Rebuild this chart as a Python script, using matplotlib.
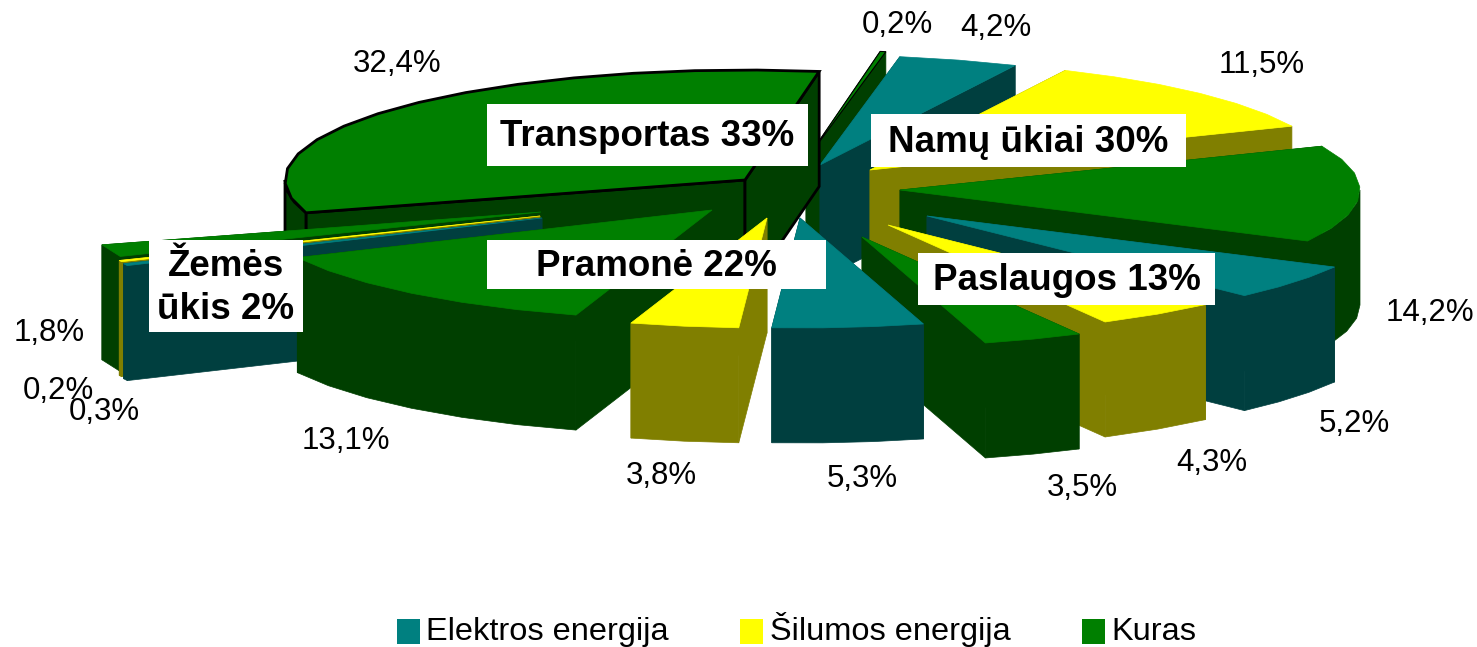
import numpy as np
import matplotlib
matplotlib.use('Agg')
import matplotlib.pyplot as plt
from matplotlib.legend_handler import HandlerPatch
from matplotlib.patches import Patch, Rectangle

# slices clockwise from the top of the pie
values = [4.2, 11.5, 14.2, 5.2, 4.3, 3.5, 5.3, 3.8, 13.1, 0.3, 0.2, 1.8, 32.4, 0.2]
kinds = ['el', 'heat', 'fuel', 'el', 'heat', 'fuel', 'el', 'heat', 'fuel', 'el', 'heat', 'fuel', 'fuel', 'fuel']
legend_names = ['Elektros energija', 'Šilumos energija', 'Kuras']
sector_names = ['Transportas 33%', 'Namų ūkiai 30%', 'Pramonė 22%', 'Paslaugos 13%', 'Žemės\nūkis 2%']

# styles and layout, in pixels of the picture
top_col = {'el': '#008080', 'heat': '#FFFF00', 'fuel': '#007F00'}
side_col = {'el': '#003F3F', 'heat': '#807F00', 'fuel': '#003F00'}
tips = [(820, 165), (870, 170), (900, 190), (927, 216), (888, 225), (862, 237), (800, 218),
        (767, 218), (712, 210), (542, 218), (540, 216), (541, 212), (745, 180), (806, 160)]
top_lw = {12: 2, 13: 0.8}
wall_lw = {12: 2}
label_pos = [(996, 28), (1262, 65), (1430, 313), (1354, 424), (1212, 463), (1082, 488), (862, 479),
             (661, 476), (346, 441), (104, 412), (58, 391), (49, 333), (397, 64), (897, 25)]
boxes = [(487, 104, 808, 166), (871, 114, 1186, 167), (487, 240, 826, 289),
         (918, 253, 1215, 305), (149, 240, 303, 332)]
rx = 460
ry = 110
depth = 115
rotation = 10
arc_step = 8

plt.rcParams['font.family'] = ['Liberation Sans', 'DejaVu Sans']

fig = plt.figure(figsize=(14.77, 6.47), dpi=100)
ax = fig.add_axes([0, 0, 1, 1])
ax.set_xlim(0, 1477)
ax.set_ylim(647, 0)
ax.axis('off')


def rim(tip, a0, a1):
    # points of the top rim between two clock angles, in short straight runs
    n = max(int(np.ceil((a1 - a0) / arc_step)), 1)
    t = np.radians(np.linspace(a0, a1, n + 1))
    return tip[0] + rx * np.sin(t), tip[1] - ry * np.cos(t)


bounds = np.concatenate([[0], np.cumsum(values)]) * 3.6 / (sum(values) / 100) + rotation
mids = (bounds[:-1] + bounds[1:]) / 2
draw_order = np.argsort(-np.cos(np.radians(mids)), kind='stable')

for i in draw_order:
    a0, a1 = bounds[i], bounds[i + 1]
    tip = tips[i]
    top = top_col[kinds[i]]
    side = side_col[kinds[i]]
    ec_top = 'black' if i in top_lw else top
    ec_side = 'black' if i in wall_lw else side

    # the two cut faces
    for a in (a0, a1):
        x, y = rim(tip, a, a + 0.001)
        ax.fill([tip[0], x[0], x[0], tip[0]], [tip[1], y[0], y[0] + depth, tip[1] + depth],
                fc=side, ec=ec_side, lw=wall_lw.get(i, 0.5), zorder=2)

    # outer wall, only the part turned to the viewer
    w0, w1 = max(a0, 90), min(a1, 270)
    if w1 > w0:
        x, y = rim(tip, w0, w1)
        ax.fill(np.r_[x, x[::-1]], np.r_[y, y[::-1] + depth], fc=side, ec=ec_side,
                lw=wall_lw.get(i, 0.5), zorder=2)

    x, y = rim(tip, a0, a1)
    ax.fill(np.r_[tip[0], x], np.r_[tip[1], y], fc=top, ec=ec_top, lw=top_lw.get(i, 0.5), zorder=2)

for v, pos in zip(values, label_pos):
    ax.text(pos[0], pos[1], f'{v:.1f}%'.replace('.', ','), fontsize=22.5, ha='center', va='center',
            color='black', zorder=3)

for name, b in zip(sector_names, boxes):
    ax.add_patch(Rectangle((b[0], b[1]), b[2] - b[0], b[3] - b[1], fc='white', ec='none', zorder=4))
    ax.text((b[0] + b[2]) / 2, (b[1] + b[3]) / 2 + 2, name, fontsize=26.5, fontweight='bold', ha='center',
            va='center', color='black', linespacing=1.3, zorder=5)

handles = [Patch(fc=top_col[k], ec='none', label=n) for k, n in zip(['el', 'heat', 'fuel'], legend_names)]
fig.legend(handles=handles, ncols=3, loc='lower left', bbox_to_anchor=(384 / 1477, -13 / 647), frameon=False,
           fontsize=23.4, handlelength=0.7, handleheight=0.56, handletextpad=0.2, columnspacing=2.2,
           borderaxespad=0.2, borderpad=0.2, handler_map={Patch: HandlerPatch(ypad=-0.16)})

plt.savefig('out.png', dpi=100)
